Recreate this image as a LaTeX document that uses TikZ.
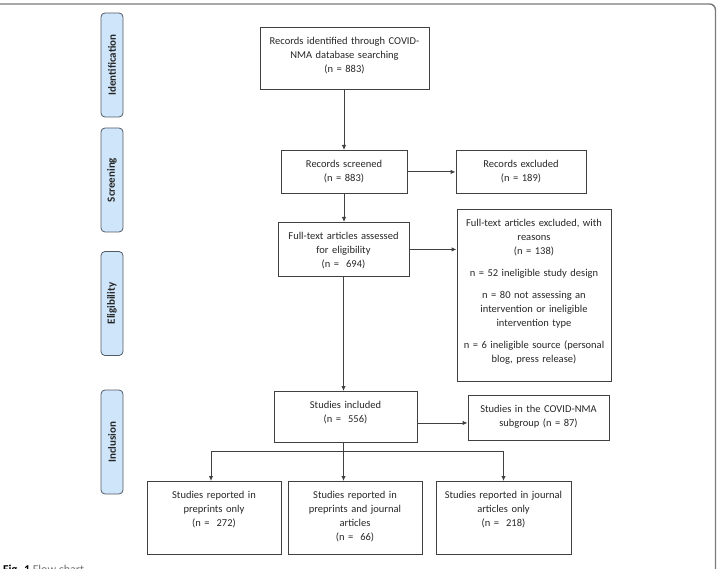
\documentclass[tikz,border=0pt]{standalone}
\usepackage{fontspec}
\setmainfont{Carlito}
\usepackage{xcolor}
\usepackage{tikz}
\usetikzlibrary{positioning, arrows.meta, calc}
\definecolor{lineGray}{HTML}{404040}
\definecolor{frameGray}{HTML}{7a7a7a}
\definecolor{phaseFill}{HTML}{cfe6fa}
\definecolor{phaseB}{HTML}{505a64}
\definecolor{capGray}{HTML}{6e6e6e}

\begin{document}
\begin{tikzpicture}[x=1pt, y=-1pt, box/.style={draw=lineGray, line width=0.9pt, anchor=north, align=center, inner xsep=3pt, inner ysep=9.5pt, text height=7.5pt, font=\fontsize{10.5}{14}\selectfont, text=black!85},phase/.style={draw=phaseB, fill=phaseFill, line width=0.8pt, rounded corners=4pt, rotate=90, minimum width=104pt, minimum height=22pt, inner sep=0pt, font=\fontsize{11}{13}\selectfont\bfseries, text=black!85},arr/.style={-{Latex[length=5pt, width=4.5pt]}, line width=0.9pt, color=lineGray}]
\useasboundingbox (0,0) rectangle (717,569);
% frame of the figure
\draw[frameGray, line width=1.4pt, rounded corners=6pt] (0,4) -- (715.5,4) -- (715.5,575);
% phases
\node[phase] (pId) at (112,65) {Identification};
\node[phase] (pScr) at (112,180) {Screening};
\node[phase] (pElig) at (112,303.5) {Eligibility};
\node[phase] (pIncl) at (112,442) {Inclusion};
% boxes
\node[box, text width=163pt, text depth=35.5pt] (ident) at (344.5,27) {Records identified through COVID-\\NMA database searching\\(n = 883)};
\node[box, text width=120pt, text depth=16.5pt] (screen) at (344,150) {Records screened\\(n = 883)};
\node[box, text width=124pt, text depth=16.5pt] (recexcl) at (521,150) {Records excluded\\(n = 189)};
\node[box, text width=125pt, text depth=27.5pt] (fulltext) at (343.5,222) {Full-text articles assessed\\for eligibility\\(n =\ \ 694)};
\node[box, text width=148pt, text depth=145.5pt] (reasons) at (534,209) {Full-text articles excluded, with\\reasons\\(n = 138)\\[8pt]n = 52 ineligible study design\\[8pt]n = 80 not assessing an\\intervention or ineligible\\intervention type\\[8pt]n = 6 ineligible source (personal\\blog, press release)};
\node[box, text width=137pt, text depth=24.5pt] (incl) at (345.5,391) {Studies included\\(n =\ \ 556)};
\node[box, text width=135pt, text depth=18.5pt] (subgrp) at (538.5,395) {Studies in the COVID-NMA\\subgroup (n = 87)};
\node[box, text width=128pt, text depth=46.5pt] (prepr) at (214,481) {Studies reported in\\preprints only\\(n =\ \ 272)};
\node[box, text width=128pt, text depth=46.5pt] (both) at (355,481) {Studies reported in\\preprints and journal\\articles\\(n =\ \ 66)};
\node[box, text width=129pt, text depth=46.5pt] (jrnl) at (503.5,481) {Studies reported in journal\\articles only\\(n =\ \ 218)};
% connectors
\draw[arr] (ident.south -| screen.north)--(screen.north); \draw[arr] (screen.east)--(screen.east -| recexcl.west); \draw[arr] (screen.south)--(screen.south |- fulltext.north);
\draw[arr] (fulltext.east)--(fulltext.east -| reasons.west); \draw[arr] (fulltext.south)--(fulltext.south |- incl.north);
\draw[arr] ([yshift=-6pt]incl.east)--([yshift=-6pt]incl.east -| subgrp.west);
\coordinate (split) at ($(fulltext.south |- incl.south)+(0,9)$);
\draw[arr] (fulltext.south |- incl.south)--(fulltext.south |- both.north);
\draw[arr] (split) -| ([xshift=-3pt]prepr.north); \draw[arr] (split) -| (jrnl.north);
% caption
\node[anchor=base west, inner sep=0pt, font=\fontsize{12}{14}\selectfont] (cap) at (3,573) {\textbf{Fig. 1} {\color{capGray}Flow chart}};
\end{tikzpicture}
\end{document}
